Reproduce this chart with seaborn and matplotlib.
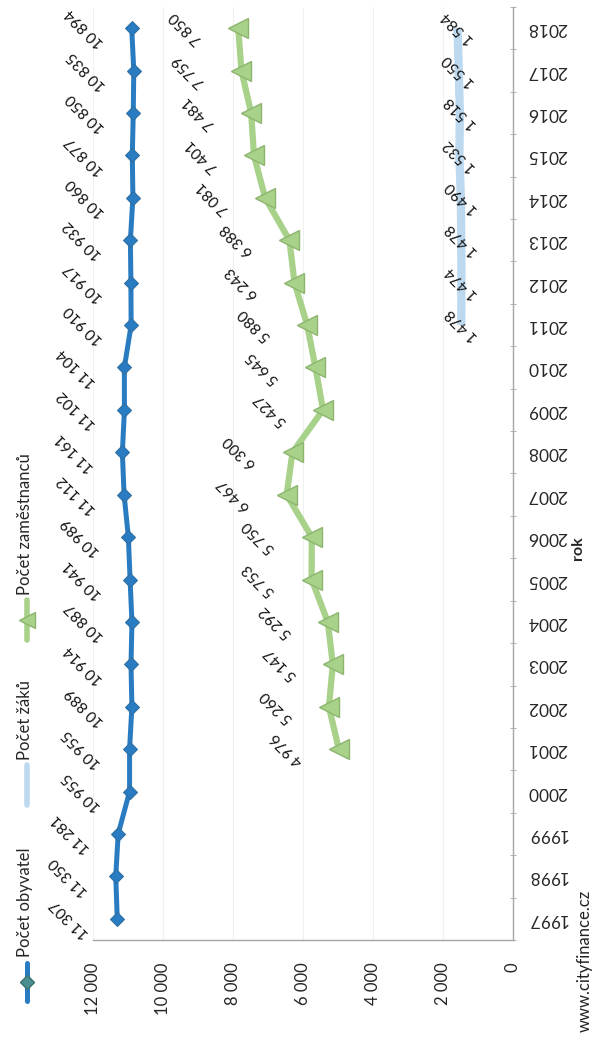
import pandas as pd
import seaborn as sns
import matplotlib.pyplot as plt
from matplotlib.lines import Line2D
from matplotlib.ticker import MultipleLocator, FixedLocator

# data
years = list(range(1997, 2019))
obyvatel = [11307, 11350, 11281, 10955, 10955, 10889, 10914, 10887, 10941, 10989, 11112,
            11161, 11102, 11104, 10910, 10917, 10932, 10860, 10877, 10850, 10835, 10894]
zam_years = list(range(2001, 2019))
zamestnanci = [4976, 5260, 5147, 5292, 5753, 5750, 6467, 6300, 5427, 5645, 5880,
               6243, 6388, 7081, 7401, 7481, 7759, 7850]
zaci_years = list(range(2011, 2019))
zaci = [1478, 1474, 1478, 1490, 1532, 1518, 1550, 1584]
value_ticks = [0, 2000, 4000, 6000, 8000, 10000, 12000]

BLUE = "#2a7cc2"
LIGHTBLUE = "#bcd9f0"
GREEN = "#a8d18a"

sns.set_style("white")
plt.rcParams['font.family'] = ['Lato', 'DejaVu Sans']

fig = plt.figure(figsize=(5.92, 10.45), dpi=100)
W, H = 592, 1045
ax = fig.add_axes([93 / W, 1 - 940 / H, (513 - 93) / W, (940 - 7) / H])

# chart is drawn rotated: values run right-to-left, years bottom-to-top
sns.lineplot(x=zaci, y=zaci_years, sort=False, estimator=None, ax=ax, color=LIGHTBLUE,
             lw=6, solid_capstyle="butt")
sns.lineplot(x=zamestnanci, y=zam_years, sort=False, estimator=None, ax=ax, color=GREEN,
             lw=4.5, marker="<", markersize=14, markerfacecolor=GREEN,
             markeredgecolor="#8db56f", markeredgewidth=1)
sns.lineplot(x=obyvatel, y=years, sort=False, estimator=None, ax=ax, color=BLUE, lw=3.6,
             marker="D", markersize=7, markerfacecolor=BLUE, markeredgecolor="#2f6e9e")

def fmt(v):
    return f"{v:,}".replace(",", " ")

for xs, ys, off in [(obyvatel, years, -47), (zamestnanci, zam_years, -52), (zaci, zaci_years, 1)]:
    for v, y in zip(xs, ys):
        ax.annotate(fmt(v), (v, y), xytext=(off, 0), textcoords="offset pixels",
                    rotation=135, rotation_mode="anchor", ha="center", va="center",
                    fontsize=11, color="#111111")

ax.set_xlim(12000, 0)
ax.set_ylim(1996.5, 2018.5)
ax.xaxis.set_major_locator(FixedLocator(value_ticks))
ax.set_xticklabels([fmt(v) for v in value_ticks], rotation=90, va="top", fontsize=12)
ax.tick_params(axis="x", length=4, direction="inout", color="#a6a6a6", pad=14)

ax.yaxis.tick_right()
ax.set_yticks(years)
ax.set_yticklabels([str(y) for y in years], rotation=180, fontsize=12.5, va="center")
ax.yaxis.set_minor_locator(MultipleLocator(1, offset=0.5))
ax.tick_params(axis="y", which="major", length=0, pad=10)
ax.tick_params(axis="y", which="minor", length=5, direction="inout", color="#a6a6a6", right=True, left=False)

ax.set_xlabel("")
ax.set_ylabel("")
ax.grid(axis="x", color="#f0f0f0", lw=0.8)
ax.grid(axis="y", visible=False)
for side in ["top", "left"]:
    ax.spines[side].set_visible(False)
for side in ["bottom", "right"]:
    ax.spines[side].set_color("#a6a6a6")
    ax.spines[side].set_linewidth(1)

# axis title and source
fig.text(578 / W, 1 - 548 / H, "rok", rotation=90, ha="center", va="center",
         fontsize=11.5, fontweight="bold")
fig.text(585 / W, 1 - 890 / H, "www.cityfinance.cz", rotation=90, rotation_mode="anchor",
         ha="right", va="center", fontsize=12, color="#222222")

# legend, drawn rotated by hand
def leg_key(y0, y1, color, lw, marker=None, ms=0, mfc=None, mec=None):
    fig.add_artist(Line2D([27 / W, 27 / W], [1 - y0 / H, 1 - y1 / H], color=color, lw=lw,
                          transform=fig.transFigure))
    if marker:
        fig.add_artist(Line2D([27 / W], [1 - (y0 + y1) / 2 / H], marker=marker, ms=ms,
                              mfc=mfc, mec=mec, color=color, transform=fig.transFigure))

leg_key(1001, 963, BLUE, 3.6, "D", 7, "#4a8f8f", "#3a7070")
fig.text(25 / W, 1 - 957 / H, "Počet obyvatel", rotation=90, rotation_mode="anchor",
         ha="left", va="center", fontsize=12)
leg_key(805, 765, LIGHTBLUE, 4)
fig.text(25 / W, 1 - 760 / H, "Počet žáků", rotation=90, rotation_mode="anchor",
         ha="left", va="center", fontsize=12)
leg_key(640, 600, GREEN, 4, "<", 11, GREEN, "#8db56f")
fig.text(25 / W, 1 - 595 / H, "Počet zaměstnanců", rotation=90, rotation_mode="anchor",
         ha="left", va="center", fontsize=12)

fig.savefig("out.png", dpi=100)
